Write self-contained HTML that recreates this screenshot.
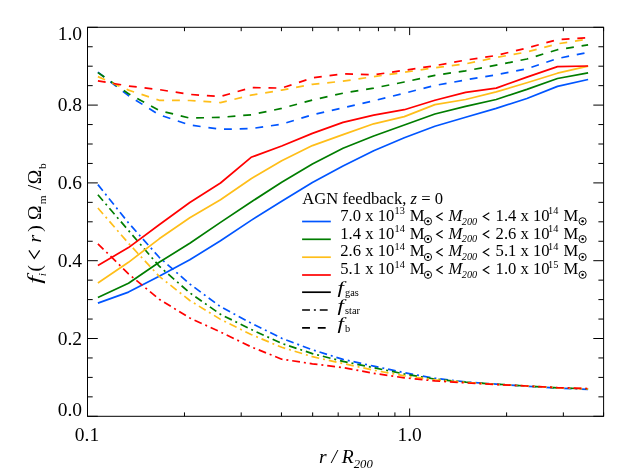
<!DOCTYPE html>
<html><head><meta charset="utf-8"><title>plot</title>
<style>
html,body{margin:0;padding:0;background:#fff;}
body{width:629px;height:472px;overflow:hidden;}
svg{display:block;will-change:transform;}
text{font-family:"Liberation Serif",serif;fill:#000;}
.t{font-size:19.5px;}
.l{font-size:16.6px;}
.i{font-style:italic;}
</style></head><body>
<svg width="629" height="472" viewBox="0 0 629 472">
<rect width="629" height="472" fill="#fff"/>

<g fill="none" stroke-width="1.7" stroke-linejoin="round">
<path d="M97.9,303.1 L128.5,292.1 L159.2,276.3 L189.8,259.8 L220.5,240.7 L251.1,220.4 L281.7,201.3 L312.4,182.5 L343.0,166.0 L373.7,150.7 L404.3,137.7 L434.9,126.2 L465.6,117.3 L496.2,108.4 L526.9,98.5 L557.5,86.4 L588.1,79.5" stroke="#0055ff"/>
<path d="M97.9,184.6 L128.5,222.9 L159.2,257.3 L189.8,284.0 L220.5,306.7 L251.1,323.1 L281.7,338.3 L312.4,349.8 L343.0,359.4 L373.7,366.1 L404.3,372.7 L434.9,378.3 L465.6,381.9 L496.2,384.2 L526.9,386.2 L557.5,388.0 L588.1,389.4" stroke="#0055ff" stroke-dasharray="7.86 3.93 1.97 3.93"/>
<path d="M97.9,72.2 L128.5,95.7 L159.2,114.8 L189.8,125.0 L220.5,129.3 L251.1,128.6 L281.7,124.2 L312.4,114.8 L343.0,107.9 L373.7,100.8 L404.3,93.2 L434.9,85.5 L465.6,79.9 L496.2,74.8 L526.9,68.8 L557.5,58.5 L588.1,52.4" stroke="#0055ff" stroke-dasharray="7.86 7.86"/>
<path d="M97.9,297.5 L128.5,283.2 L159.2,262.3 L189.8,243.3 L220.5,222.4 L251.1,202.0 L281.7,182.3 L312.4,163.9 L343.0,148.2 L373.7,136.0 L404.3,125.0 L434.9,114.0 L465.6,106.4 L496.2,99.5 L526.9,89.4 L557.5,78.5 L588.1,72.8" stroke="#007d00"/>
<path d="M97.9,194.8 L128.5,230.5 L159.2,266.2 L189.8,292.9 L220.5,314.3 L251.1,329.4 L281.7,343.4 L312.4,353.6 L343.0,361.4 L373.7,367.7 L404.3,374.0 L434.9,379.1 L465.6,382.2 L496.2,384.2 L526.9,386.0 L557.5,387.8 L588.1,389.0" stroke="#007d00" stroke-dasharray="7.86 3.93 1.97 3.93"/>
<path d="M97.9,72.6 L128.5,93.7 L159.2,110.5 L189.8,118.1 L220.5,117.3 L251.1,114.8 L281.7,108.4 L312.4,100.0 L343.0,93.2 L373.7,88.1 L404.3,82.0 L434.9,75.3 L465.6,70.8 L496.2,65.2 L526.9,59.0 L557.5,49.7 L588.1,44.8" stroke="#007d00" stroke-dasharray="7.86 7.86"/>
<path d="M97.9,283.0 L128.5,262.3 L159.2,238.8 L189.8,217.8 L220.5,199.8 L251.1,178.7 L281.7,160.8 L312.4,145.6 L343.0,134.6 L373.7,123.8 L404.3,116.6 L434.9,104.6 L465.6,99.5 L496.2,91.9 L526.9,82.7 L557.5,73.2 L588.1,66.2" stroke="#ffbe19"/>
<path d="M97.9,208.0 L128.5,243.3 L159.2,276.3 L189.8,300.5 L220.5,319.4 L251.1,334.5 L281.7,347.3 L312.4,356.7 L343.0,363.5 L373.7,370.2 L404.3,375.8 L434.9,379.9 L465.6,382.4 L496.2,384.4 L526.9,386.0 L557.5,387.8 L588.1,388.8" stroke="#ffbe19" stroke-dasharray="7.86 3.93 1.97 3.93"/>
<path d="M97.9,76.6 L128.5,90.1 L159.2,100.3 L189.8,100.5 L220.5,102.6 L251.1,95.2 L281.7,90.1 L312.4,84.3 L343.0,81.2 L373.7,76.6 L404.3,72.3 L434.9,67.7 L465.6,63.9 L496.2,57.5 L526.9,52.0 L557.5,43.8 L588.1,39.1" stroke="#ffbe19" stroke-dasharray="7.86 7.86"/>
<path d="M97.9,265.4 L128.5,247.6 L159.2,224.7 L189.8,202.5 L220.5,183.0 L251.1,157.3 L281.7,146.0 L312.4,133.4 L343.0,122.4 L373.7,115.2 L404.3,109.7 L434.9,100.3 L465.6,92.4 L496.2,88.1 L526.9,77.1 L557.5,66.6 L588.1,66.0" stroke="#ff0000"/>
<path d="M97.9,243.8 L128.5,273.8 L159.2,299.2 L189.8,318.0 L220.5,332.0 L251.1,346.8 L281.7,359.2 L312.4,363.8 L343.0,367.6 L373.7,373.3 L404.3,377.8 L434.9,380.9 L465.6,382.9 L496.2,384.5 L526.9,386.0 L557.5,387.6 L588.1,388.5" stroke="#ff0000" stroke-dasharray="7.86 3.93 1.97 3.93"/>
<path d="M97.9,80.9 L128.5,86.0 L159.2,89.6 L189.8,94.4 L220.5,96.5 L251.1,87.6 L281.7,88.1 L312.4,77.9 L343.0,73.8 L373.7,74.8 L404.3,70.3 L434.9,65.7 L465.6,60.1 L496.2,55.5 L526.9,48.0 L557.5,39.6 L588.1,37.7" stroke="#ff0000" stroke-dasharray="7.86 7.86"/>
</g>
<path d="M87.5,416.30h10.3M603.6,416.30h-10.3M87.5,396.85h5.2M603.6,396.85h-5.2M87.5,377.40h5.2M603.6,377.40h-5.2M87.5,357.95h5.2M603.6,357.95h-5.2M87.5,338.50h10.3M603.6,338.50h-10.3M87.5,319.05h5.2M603.6,319.05h-5.2M87.5,299.60h5.2M603.6,299.60h-5.2M87.5,280.15h5.2M603.6,280.15h-5.2M87.5,260.70h10.3M603.6,260.70h-10.3M87.5,241.25h5.2M603.6,241.25h-5.2M87.5,221.80h5.2M603.6,221.80h-5.2M87.5,202.35h5.2M603.6,202.35h-5.2M87.5,182.90h10.3M603.6,182.90h-10.3M87.5,163.45h5.2M603.6,163.45h-5.2M87.5,144.00h5.2M603.6,144.00h-5.2M87.5,124.55h5.2M603.6,124.55h-5.2M87.5,105.10h10.3M603.6,105.10h-10.3M87.5,85.65h5.2M603.6,85.65h-5.2M87.5,66.20h5.2M603.6,66.20h-5.2M87.5,46.75h5.2M603.6,46.75h-5.2M87.5,27.30h10.3M603.6,27.30h-10.3M87.50,416.3v-7.8M87.50,27.3v7.8M184.48,416.3v-3.9M184.48,27.3v3.9M241.20,416.3v-3.9M241.20,27.3v3.9M281.45,416.3v-3.9M281.45,27.3v3.9M312.67,416.3v-3.9M312.67,27.3v3.9M338.18,416.3v-3.9M338.18,27.3v3.9M359.75,416.3v-3.9M359.75,27.3v3.9M378.43,416.3v-3.9M378.43,27.3v3.9M394.91,416.3v-3.9M394.91,27.3v3.9M409.65,416.3v-7.8M409.65,27.3v7.8M506.62,416.3v-3.9M506.62,27.3v3.9M563.35,416.3v-3.9M563.35,27.3v3.9M603.60,416.3v-3.9M603.60,27.3v3.9" stroke="#000" stroke-width="1.0" fill="none"/>
<rect x="87.5" y="27.3" width="516.1" height="389.0" fill="none" stroke="#000" stroke-width="1"/>
<text class="t" x="82.0" y="416.3" text-anchor="end">0.0</text>
<text class="t" x="82.0" y="344.7" text-anchor="end">0.2</text>
<text class="t" x="82.0" y="266.9" text-anchor="end">0.4</text>
<text class="t" x="82.0" y="189.1" text-anchor="end">0.6</text>
<text class="t" x="82.0" y="111.3" text-anchor="end">0.8</text>
<text class="t" x="82.0" y="39.8" text-anchor="end">1.0</text>
<text class="t" x="87.0" y="441.0" text-anchor="middle">0.1</text>
<text class="t" x="409.6" y="441.0" text-anchor="middle">1.0</text>
<text class="t i" x="319.1" y="462.7">r / R<tspan font-size="12.7" dy="4.8">200</tspan></text>
<g transform="translate(40.9,281.2) rotate(-90)"><text class="t i" transform="translate(-2.6,0) scale(1.45,1)" x="0" y="0">f</text><text class="i" font-size="11.4" x="4.9" y="4.6">i</text><text class="t" x="9.7" y="0">(</text><path d="M30.8,-12.0L22.9,-6.6L30.8,-1.2" fill="none" stroke="#000" stroke-width="1.25"/><text class="t i" x="38.6" y="0">r</text><text class="t" x="49.55" y="0">)</text><text class="t" x="61.3" y="0">Ω</text><text font-size="11.4" x="76.9" y="4.6">m</text><text class="t" x="91.0" y="0">/</text><text class="t" x="96.9" y="0">Ω</text><text font-size="11.4" x="112.1" y="4.6">b</text></g>
<text class="l" x="302.3" y="204.1">AGN feedback, <tspan class="i">z</tspan> = 0</text>
<path d="M302.1,221.5H330.8" stroke="#0055ff" stroke-width="1.7"/>
<text class="l" y="220.7"><tspan x="340.3">7.0 x 10</tspan><tspan x="394.5" dy="-6.6" font-size="10.3">13</tspan><tspan x="409.8" dy="6.6">M</tspan><tspan x="448.6" class="i">M</tspan><tspan x="461.8" dy="3.9" class="i" font-size="10.3">200</tspan><tspan x="495.6" dy="-3.9">1.4 x 10</tspan><tspan x="548.0" dy="-6.6" font-size="10.3">14</tspan><tspan x="563.6" dy="6.6">M</tspan></text>
<path d="M442.7,212.8L436.7,216.5L442.7,220.2" fill="none" stroke="#000" stroke-width="1.15"/>
<path d="M489.3,212.8L483.3,216.5L489.3,220.2" fill="none" stroke="#000" stroke-width="1.15"/>
<circle cx="428.0" cy="221.3" r="3.6" fill="none" stroke="#000" stroke-width="0.95"/><circle cx="428.0" cy="221.3" r="1.25" fill="#000"/>
<circle cx="582.6" cy="221.3" r="3.6" fill="none" stroke="#000" stroke-width="0.95"/><circle cx="582.6" cy="221.3" r="1.25" fill="#000"/>
<path d="M302.1,239.3H330.8" stroke="#007d00" stroke-width="1.7"/>
<text class="l" y="238.5"><tspan x="340.3">1.4 x 10</tspan><tspan x="394.5" dy="-6.6" font-size="10.3">14</tspan><tspan x="409.8" dy="6.6">M</tspan><tspan x="448.6" class="i">M</tspan><tspan x="461.8" dy="3.9" class="i" font-size="10.3">200</tspan><tspan x="495.6" dy="-3.9">2.6 x 10</tspan><tspan x="548.0" dy="-6.6" font-size="10.3">14</tspan><tspan x="563.6" dy="6.6">M</tspan></text>
<path d="M442.7,230.6L436.7,234.3L442.7,238.0" fill="none" stroke="#000" stroke-width="1.15"/>
<path d="M489.3,230.6L483.3,234.3L489.3,238.0" fill="none" stroke="#000" stroke-width="1.15"/>
<circle cx="428.0" cy="239.1" r="3.6" fill="none" stroke="#000" stroke-width="0.95"/><circle cx="428.0" cy="239.1" r="1.25" fill="#000"/>
<circle cx="582.6" cy="239.1" r="3.6" fill="none" stroke="#000" stroke-width="0.95"/><circle cx="582.6" cy="239.1" r="1.25" fill="#000"/>
<path d="M302.1,257.2H330.8" stroke="#ffbe19" stroke-width="1.7"/>
<text class="l" y="256.4"><tspan x="340.3">2.6 x 10</tspan><tspan x="394.5" dy="-6.6" font-size="10.3">14</tspan><tspan x="409.8" dy="6.6">M</tspan><tspan x="448.6" class="i">M</tspan><tspan x="461.8" dy="3.9" class="i" font-size="10.3">200</tspan><tspan x="495.6" dy="-3.9">5.1 x 10</tspan><tspan x="548.0" dy="-6.6" font-size="10.3">14</tspan><tspan x="563.6" dy="6.6">M</tspan></text>
<path d="M442.7,248.5L436.7,252.2L442.7,255.9" fill="none" stroke="#000" stroke-width="1.15"/>
<path d="M489.3,248.5L483.3,252.2L489.3,255.9" fill="none" stroke="#000" stroke-width="1.15"/>
<circle cx="428.0" cy="257.0" r="3.6" fill="none" stroke="#000" stroke-width="0.95"/><circle cx="428.0" cy="257.0" r="1.25" fill="#000"/>
<circle cx="582.6" cy="257.0" r="3.6" fill="none" stroke="#000" stroke-width="0.95"/><circle cx="582.6" cy="257.0" r="1.25" fill="#000"/>
<path d="M302.1,275.0H330.8" stroke="#ff0000" stroke-width="1.7"/>
<text class="l" y="274.2"><tspan x="340.3">5.1 x 10</tspan><tspan x="394.5" dy="-6.6" font-size="10.3">14</tspan><tspan x="409.8" dy="6.6">M</tspan><tspan x="448.6" class="i">M</tspan><tspan x="461.8" dy="3.9" class="i" font-size="10.3">200</tspan><tspan x="495.6" dy="-3.9">1.0 x 10</tspan><tspan x="548.0" dy="-6.6" font-size="10.3">15</tspan><tspan x="563.6" dy="6.6">M</tspan></text>
<path d="M442.7,266.3L436.7,270.0L442.7,273.7" fill="none" stroke="#000" stroke-width="1.15"/>
<path d="M489.3,266.3L483.3,270.0L489.3,273.7" fill="none" stroke="#000" stroke-width="1.15"/>
<circle cx="428.0" cy="274.8" r="3.6" fill="none" stroke="#000" stroke-width="0.95"/><circle cx="428.0" cy="274.8" r="1.25" fill="#000"/>
<circle cx="582.6" cy="274.8" r="3.6" fill="none" stroke="#000" stroke-width="0.95"/><circle cx="582.6" cy="274.8" r="1.25" fill="#000"/>
<path d="M302.1,292.2H330.8" stroke="#000" stroke-width="1.7"/>
<text class="l i" transform="translate(337.6,293.4) scale(1.38,1)">f</text>
<text font-size="10.3" x="345.1" y="296.4">gas</text>
<path d="M302.1,310.0H330.8" stroke="#000" stroke-width="1.7" stroke-dasharray="7.86 3.93 1.97 3.93"/>
<text class="l i" transform="translate(337.6,311.2) scale(1.38,1)">f</text>
<text font-size="10.3" x="345.1" y="314.2">star</text>
<path d="M302.1,327.8H330.8" stroke="#000" stroke-width="1.7" stroke-dasharray="7.86 7.86"/>
<text class="l i" transform="translate(337.6,329.0) scale(1.38,1)">f</text>
<text font-size="10.3" x="345.1" y="332.0">b</text>
</svg></body></html>
